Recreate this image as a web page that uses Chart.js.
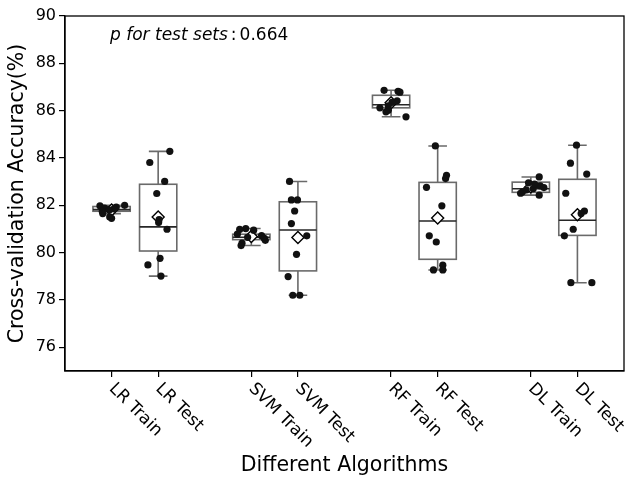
<!DOCTYPE html>
<html><head><meta charset="utf-8">
<script src="https://cdn.jsdelivr.net/npm/chart.js@4/dist/chart.umd.min.js"></script>
<style>html,body{margin:0;padding:0;background:#fff}#wrap{width:633px;height:477px}</style>
</head><body><div id="wrap"><canvas id="c" width="633" height="477"></canvas></div>
<script>
// ---- data ----
const categories = ["LR Train", "LR Test", "SVM Train", "SVM Test", "RF Train", "RF Test", "DL Train", "DL Test"];
const yTicks = [76, 78, 80, 82, 84, 86, 88, 90];

// per-fold accuracies (%) shown as dots
const lrTrain  = [82.0, 81.98, 81.93, 81.88, 81.85, 81.8, 81.75, 81.65, 81.51, 81.45];
const lrTest   = [84.28, 83.81, 83.01, 82.5, 81.27, 80.99, 79.76, 79.48, 79.01, 81.4];
const svmTrain = [81.02, 80.98, 80.95, 80.78, 80.72, 80.65, 80.6, 80.52, 80.4, 80.3];
const svmTest  = [83.01, 82.23, 82.23, 81.76, 81.23, 80.71, 79.93, 78.99, 78.2, 78.2];
const rfTrain  = [86.86, 86.82, 86.78, 86.42, 86.35, 86.2, 86.12, 86.02, 85.95, 85.74];
const rfTest   = [84.51, 83.27, 83.13, 82.76, 81.98, 80.71, 80.45, 79.47, 79.27, 79.27];
const dlTrain  = [83.2, 82.95, 82.82, 82.75, 82.7, 82.65, 82.57, 82.51, 82.43, 82.9];
const dlTest   = [84.54, 83.78, 83.32, 82.51, 81.76, 81.65, 80.99, 80.71, 78.73, 78.73];

// horizontal strip jitter of each dot (category units)
const jitter = [
  [0.28, -0.25, 0.1, -0.15, 0.05, -0.05, -0.2, -0.19, -0.04, 0.0],
  [0.25, -0.18, 0.14, -0.03, 0.01, 0.19, 0.04, -0.22, 0.06, 0.02],
  [-0.12, -0.25, 0.05, -0.3, 0.22, -0.08, 0.28, 0.3, -0.2, -0.22],
  [-0.18, -0.14, -0.01, -0.07, -0.14, 0.19, -0.03, -0.21, -0.11, 0.04],
  [-0.15, 0.15, 0.19, 0.13, 0.02, -0.06, -0.24, -0.06, -0.11, 0.32],
  [-0.05, 0.19, 0.17, -0.24, 0.09, -0.18, -0.03, 0.11, -0.09, 0.11],
  [0.18, -0.05, 0.2, 0.28, 0.05, -0.1, -0.18, -0.22, 0.18, 0.08],
  [-0.02, -0.15, 0.2, -0.25, 0.15, 0.08, -0.09, -0.28, -0.14, 0.31]
];

// box statistics
const q1          = [81.75, 80.07, 80.55, 79.23, 86.12, 79.72, 82.55, 80.73];
const median      = [81.82, 81.09, 80.65, 80.96, 86.25, 81.34, 82.70, 81.37];
const q3          = [81.95, 82.89, 80.78, 82.15, 86.65, 82.97, 82.98, 83.10];
const whiskerLow  = [81.65, 79.01, 80.30, 78.20, 85.74, 79.27, 82.43, 78.73];
const whiskerHigh = [82.00, 84.28, 81.02, 83.01, 86.86, 84.51, 83.20, 84.54];
const means       = [81.80, 81.51, 80.68, 80.64, 86.33, 81.46, 82.78, 81.60];

const pValueText = "0.664";

// ---- build ----
const pointSets = [lrTrain, lrTest, svmTrain, svmTest, rfTrain, rfTest, dlTrain, dlTest];
const xPos = categories.map((_, i) => Math.floor(i / 2) * 3 + (i % 2));

const dotData = [];
pointSets.forEach((arr, i) => arr.forEach((v, j) => dotData.push({ x: xPos[i] + jitter[i][j], y: v })));
const meanData = means.map((m, i) => ({ x: xPos[i], y: m }));

const FONT = "'DejaVu Sans', sans-serif";

const boxPlugin = {
  id: 'boxes',
  beforeDatasetsDraw(chart) {
    const { ctx, scales: { x, y } } = chart;
    const half = x.getPixelForValue(0.4) - x.getPixelForValue(0);
    ctx.save();
    categories.forEach((c, i) => {
      const cx = x.getPixelForValue(xPos[i]);
      const yq1 = y.getPixelForValue(q1[i]), yq3 = y.getPixelForValue(q3[i]);
      const ylo = y.getPixelForValue(whiskerLow[i]), yhi = y.getPixelForValue(whiskerHigh[i]);
      const ymed = y.getPixelForValue(median[i]);
      ctx.strokeStyle = '#6a6a6a';
      ctx.lineWidth = 1.6;
      ctx.fillStyle = '#ffffff';
      ctx.fillRect(cx - half, yq3, 2 * half, yq1 - yq3);
      ctx.strokeRect(cx - half, yq3, 2 * half, yq1 - yq3);
      ctx.beginPath();
      ctx.moveTo(cx, yq3); ctx.lineTo(cx, yhi);
      ctx.moveTo(cx, yq1); ctx.lineTo(cx, ylo);
      ctx.moveTo(cx - half / 2, yhi); ctx.lineTo(cx + half / 2, yhi);
      ctx.moveTo(cx - half / 2, ylo); ctx.lineTo(cx + half / 2, ylo);
      ctx.stroke();
      ctx.strokeStyle = '#262626';
      ctx.beginPath();
      ctx.moveTo(cx - half, ymed); ctx.lineTo(cx + half, ymed);
      ctx.stroke();
    });
    ctx.restore();
  },
  afterDraw(chart) {
    const { ctx, chartArea: a, scales: { x, y } } = chart;
    ctx.save();
    // frame
    ctx.strokeStyle = '#000';
    ctx.lineWidth = 1.3;
    ctx.strokeRect(a.left, a.top, a.right - a.left, a.bottom - a.top);
    // rotated category labels
    ctx.fillStyle = '#000';
    ctx.font = "17px " + FONT;
    ctx.textAlign = 'left';
    ctx.textBaseline = 'top';
    categories.forEach((c, i) => {
      const px = x.getPixelForValue(xPos[i]);
      ctx.save();
      ctx.translate(px + 6, a.bottom + 9);
      ctx.rotate(Math.PI / 4);
      ctx.fillText(c, 0, 0);
      ctx.restore();
    });
    // axis titles
    ctx.font = "20.5px " + FONT;
    ctx.textAlign = 'center';
    ctx.textBaseline = 'middle';
    ctx.fillText("Different Algorithms", (a.left + a.right) / 2, 466);
    ctx.save();
    ctx.translate(18, (a.top + a.bottom) / 2);
    ctx.rotate(-Math.PI / 2);
    ctx.fillText("Cross-validation Accuracy(%)", 0, 0);
    ctx.restore();
    // p-value annotation
    ctx.textAlign = 'left';
    ctx.font = "italic 17px " + FONT;
    const t1 = "p for test sets";
    ctx.fillText(t1, 110, 36);
    let w = ctx.measureText(t1).width;
    ctx.font = "17px " + FONT;
    ctx.fillText(":", 110 + w + 3, 36);
    const wc = ctx.measureText(":").width;
    ctx.fillText(pValueText, 110 + w + 3 + wc + 3, 36);
    ctx.restore();
  }
};

new Chart(document.getElementById('c'), {
  type: 'scatter',
  data: {
    datasets: [
      { label: 'folds', data: dotData, pointRadius: 3.6, pointHoverRadius: 3.6,
        backgroundColor: '#111', borderColor: '#111', borderWidth: 0 },
      { label: 'mean', data: meanData, pointStyle: 'rectRot', pointRadius: 6, pointHoverRadius: 6,
        backgroundColor: '#fff', borderColor: '#000', borderWidth: 1.4 }
    ]
  },
  options: {
    responsive: false,
    animation: false,
    devicePixelRatio: 1,
    layout: { padding: { top: 16, right: 9, left: 0, bottom: 0 } },
    plugins: { legend: { display: false }, tooltip: { enabled: false } },
    scales: {
      x: {
        type: 'linear', min: -1, max: 11,
        afterBuildTicks: s => { s.ticks = xPos.map(v => ({ value: v })); },
        afterFit: s => { s.height = 106; },
        ticks: { display: false },
        grid: { drawOnChartArea: false, drawTicks: true, tickLength: 6, color: '#000', lineWidth: 1.2 },
        border: { display: true, color: '#000', width: 1.3 }
      },
      y: {
        type: 'linear', min: 75, max: 90,
        afterBuildTicks: s => { s.ticks = yTicks.map(v => ({ value: v })); },
        afterFit: s => { s.width = 65; },
        ticks: { font: { family: FONT, size: 16 }, color: '#000', padding: 3 },
        grid: { drawOnChartArea: false, drawTicks: true, tickLength: 6, color: '#000', lineWidth: 1.2 },
        border: { display: true, color: '#000', width: 1.3 }
      }
    }
  },
  plugins: [boxPlugin]
});
</script>
</body></html>
